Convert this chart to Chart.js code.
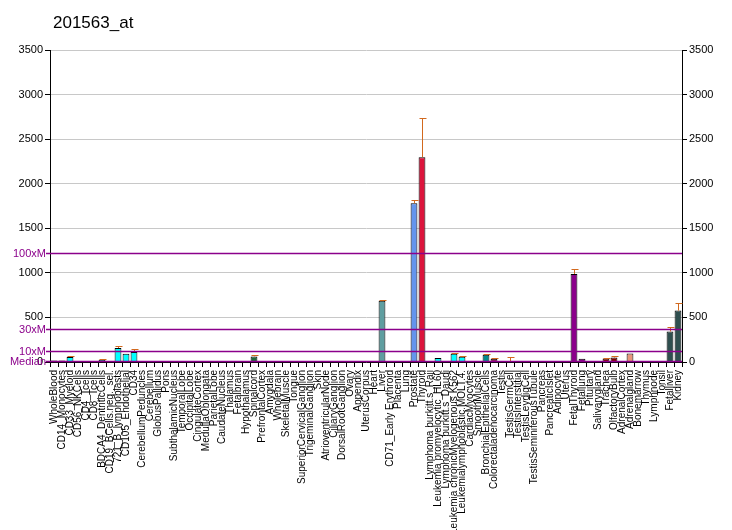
<!DOCTYPE html>
<html>
<head>
<meta charset="utf-8">
<script src="https://cdn.jsdelivr.net/npm/chart.js@4"></script>
<style>
  html, body { margin: 0; padding: 0; background: #fff; }
  #wrap { width: 732px; height: 530px; }
</style>
</head>
<body>
<div id="wrap"><canvas id="chart" width="732" height="530"></canvas></div>
<script>
// tissue names, in plot order
const categories = [
    'WholeBlood', 'CD14_Monocytes', 'CD33_Myeloid', 'CD56_NKCells', 'CD4_Tcells', 'CD8_Tcells',
    'BDCA4_DentriticCells', 'CD19_BCells.neg._sel.', '721_B_lymphoblasts', 'CD105_Endothelial', 'CD34',
    'CerebellumPeduncles', 'Cerebellum', 'GlobusPallidus', 'Pons', 'SubthalamicNucleus', 'TemporalLobe',
    'OccipitalLobe', 'CingulateCortex', 'MedullaOblongata', 'ParietalLobe', 'CaudateNucleus', 'Thalamus',
    'Fetalbrain', 'Hypothalamus', 'Spinalcord', 'PrefrontalCortex', 'Amygdala', 'Wholebrain',
    'SkeletalMuscle', 'Tongue', 'SuperiorCervicalGanglion', 'TrigeminalGanglion', 'Skin',
    'AtrioventricularNode', 'CiliaryGanglion', 'DorsalRootGanglion', 'Ovary', 'Appendix', 'UterusCorpus',
    'Heart', 'Liver', 'CD71_Early Erythroid', 'Placenta', 'Lung', 'Prostate', 'Thyroid',
    'Lymphoma burkitt.s_Raji', 'Leukemia promyelocytic_HL60', 'Lymphoma burkitt.s_Daudi',
    'Leukemia chronicMyelogenous K562', 'Leukemialymphoblastic.MOLT.4.', 'CardiacMyocytes', 'SmoothMuscle',
    'BronchialEpithelialCells', 'Colorectaladenocarcinoma', 'Testis', 'TestisGermCell', 'TestisInterstitial',
    'TestisLeydigCell', 'TestisSeminiferousTubule', 'Pancreas', 'PancreaticIslet', 'Adipocyte', 'Uterus',
    'FetalThyroid', 'Fetallung', 'Pituitary', 'Salivarygland', 'Trachea', 'OlfactoryBulb', 'AdrenalCortex',
    'Adrenalgland', 'Bonemarrow', 'Thymus', 'Lymphnode', 'Tonsil', 'Fetalliver', 'Kidney'
];

// expression values
const values = [
    18, 18, 56, 4, 3, 3, 25, 10, 157, 93, 112,
    0, 0, 0, 0, 0, 0, 0, 0, 0, 0, 0, 0,
    0, 12, 63, 0, 10, 10,
    0, 0, 0, 0, 0, 0, 0, 0, 0, 0, 0,
    0, 687, 0, 0, 0, 1781, 2296,
    8, 45, 0, 93, 60, 0, 10, 82, 37,
    0, 6, 0, 0, 0, 8, 8, 0, 10,
    988, 36, 8, 8, 40, 50, 10, 95,
    0, 0, 0, 0, 342, 577
];

// upper end of the error bars (null = none drawn)
const errorTops = [
    null, null, 70, null, null, null, 35, null, 184, null, 146,
    null, null, null, null, null, null, null, null, null, null, null, null,
    null, null, 74, null, null, null,
    null, null, null, null, null, null, null, null, null, null, null,
    null, 700, null, null, null, 1815, 2733,
    null, null, null, 100, 70, null, null, 90, 45,
    null, 56, null, null, null, null, null, null, null,
    1044, null, null, null, 50, 66, null, null,
    null, null, null, null, 394, 666
];

const yTicks = [0, 500, 1000, 1500, 2000, 2500, 3000, 3500];

// median and its multiples
const median = 12.2;
const refLines = [
    { label: 'Median', value: median },
    { label: '10xM', value: median * 10 },
    { label: '30xM', value: median * 30 },
    { label: '100xM', value: median * 100 }
];

// one fill colour per tissue group
function groupColor(i) {
    if (i <= 10) return '#00FFFF';
    if (i <= 28) return '#1E6B3A';
    if (i <= 40) return '#8FBC8F';
    if (i === 41) return '#5F9EA0';
    if (i <= 43) return '#B0C4DE';
    if (i <= 45) return '#6495ED';
    if (i === 46) return '#DC143C';
    if (i <= 51) return '#00FFFF';
    if (i <= 54) return '#008B8B';
    if (i === 55) return '#8B2252';
    if (i <= 60) return '#F08080';
    if (i <= 62) return '#DB7093';
    if (i <= 64) return '#9370DB';
    if (i <= 66) return '#8B008B';
    if (i <= 68) return '#E9967A';
    if (i <= 70) return '#800000';
    if (i <= 72) return '#E9967A';
    if (i <= 76) return '#BC8F8F';
    return '#2F4F4F';
}

const errorBarPlugin = {
    id: 'errorBars',
    afterDatasetsDraw(chart) {
        const ctx = chart.ctx;
        const meta = chart.getDatasetMeta(0);
        const y = chart.scales.y;
        ctx.save();
        ctx.strokeStyle = '#D2691E';
        ctx.lineWidth = 1;
        meta.data.forEach((bar, i) => {
            if (errorTops[i] == null) return;
            const x = Math.round(bar.x) + 0.5;
            const yTop = Math.round(y.getPixelForValue(errorTops[i])) + 0.5;
            const yVal = y.getPixelForValue(values[i]);
            ctx.beginPath();
            ctx.moveTo(x, yVal);
            ctx.lineTo(x, yTop);
            ctx.moveTo(x - 3, yTop);
            ctx.lineTo(x + 4, yTop);
            ctx.stroke();
        });
        ctx.restore();
    }
};

const refLinePlugin = {
    id: 'refLines',
    afterDatasetsDraw(chart) {
        const ctx = chart.ctx;
        const area = chart.chartArea;
        const y = chart.scales.y;
        ctx.save();
        ctx.strokeStyle = '#8B008B';
        ctx.fillStyle = '#8B008B';
        ctx.lineWidth = 1.5;
        ctx.font = '11px "Liberation Sans", Arial, sans-serif';
        ctx.textAlign = 'right';
        ctx.textBaseline = 'middle';
        refLines.forEach(r => {
            const py = Math.round(y.getPixelForValue(r.value)) + 0.5;
            ctx.beginPath();
            ctx.moveTo(area.left - 4, py);
            ctx.lineTo(area.right, py);
            ctx.stroke();
            ctx.fillText(r.label, area.left - 4, py);
        });
        ctx.restore();
    }
};

const titlePlugin = {
    id: 'plainTitle',
    afterDraw(chart) {
        const ctx = chart.ctx;
        ctx.save();
        ctx.fillStyle = '#000';
        ctx.font = '17px "Liberation Sans", Arial, sans-serif';
        ctx.textBaseline = 'alphabetic';
        ctx.fillText('201563_at', 53, 28);
        ctx.restore();
    }
};

const ctx = document.getElementById('chart').getContext('2d');

new Chart(ctx, {
    type: 'bar',
    data: {
        labels: categories,
        datasets: [{
            data: values,
            backgroundColor: categories.map((c, i) => groupColor(i)),
            borderColor: '#000',
            borderWidth: 1,
            barPercentage: 0.85,
            categoryPercentage: 1.0
        }]
    },
    options: {
        responsive: false,
        animation: false,
        devicePixelRatio: 1,
        layout: {
            padding: { top: 50, left: 0, right: 0, bottom: 0 }
        },
        plugins: {
            legend: { display: false },
            tooltip: { enabled: false }
        },
        scales: {
            x: {
                offset: true,
                border: { color: '#000', width: 1 },
                grid: {
                    offset: true,
                    drawOnChartArea: false,
                    color: '#000',
                    tickLength: 5
                },
                ticks: {
                    autoSkip: false,
                    maxRotation: 90,
                    minRotation: 90,
                    padding: 3,
                    color: '#000',
                    font: { family: '"Liberation Sans", Arial, sans-serif', size: 10 }
                },
                afterFit(scale) { scale.height = 168; }
            },
            y: {
                position: 'left',
                min: 0,
                max: 3500,
                afterBuildTicks(scale) { scale.ticks = yTicks.map(v => ({ value: v })); },
                border: { color: '#000', width: 1 },
                grid: {
                    color: '#C8C8C8',
                    tickColor: '#000',
                    tickLength: 5
                },
                ticks: {
                    padding: 2,
                    color: '#000',
                    font: { family: '"Liberation Sans", Arial, sans-serif', size: 11 },
                    callback: v => String(v)
                },
                afterFit(scale) { scale.width = 50; }
            },
            y2: {
                position: 'right',
                min: 0,
                max: 3500,
                afterBuildTicks(scale) { scale.ticks = yTicks.map(v => ({ value: v })); },
                border: { color: '#000', width: 1 },
                grid: {
                    drawOnChartArea: false,
                    color: '#000',
                    tickLength: 5
                },
                ticks: {
                    padding: 2,
                    color: '#000',
                    font: { family: '"Liberation Sans", Arial, sans-serif', size: 11 },
                    callback: v => String(v)
                },
                afterFit(scale) { scale.width = 50; }
            }
        }
    },
    plugins: [errorBarPlugin, refLinePlugin, titlePlugin]
});
</script>
</body>
</html>
